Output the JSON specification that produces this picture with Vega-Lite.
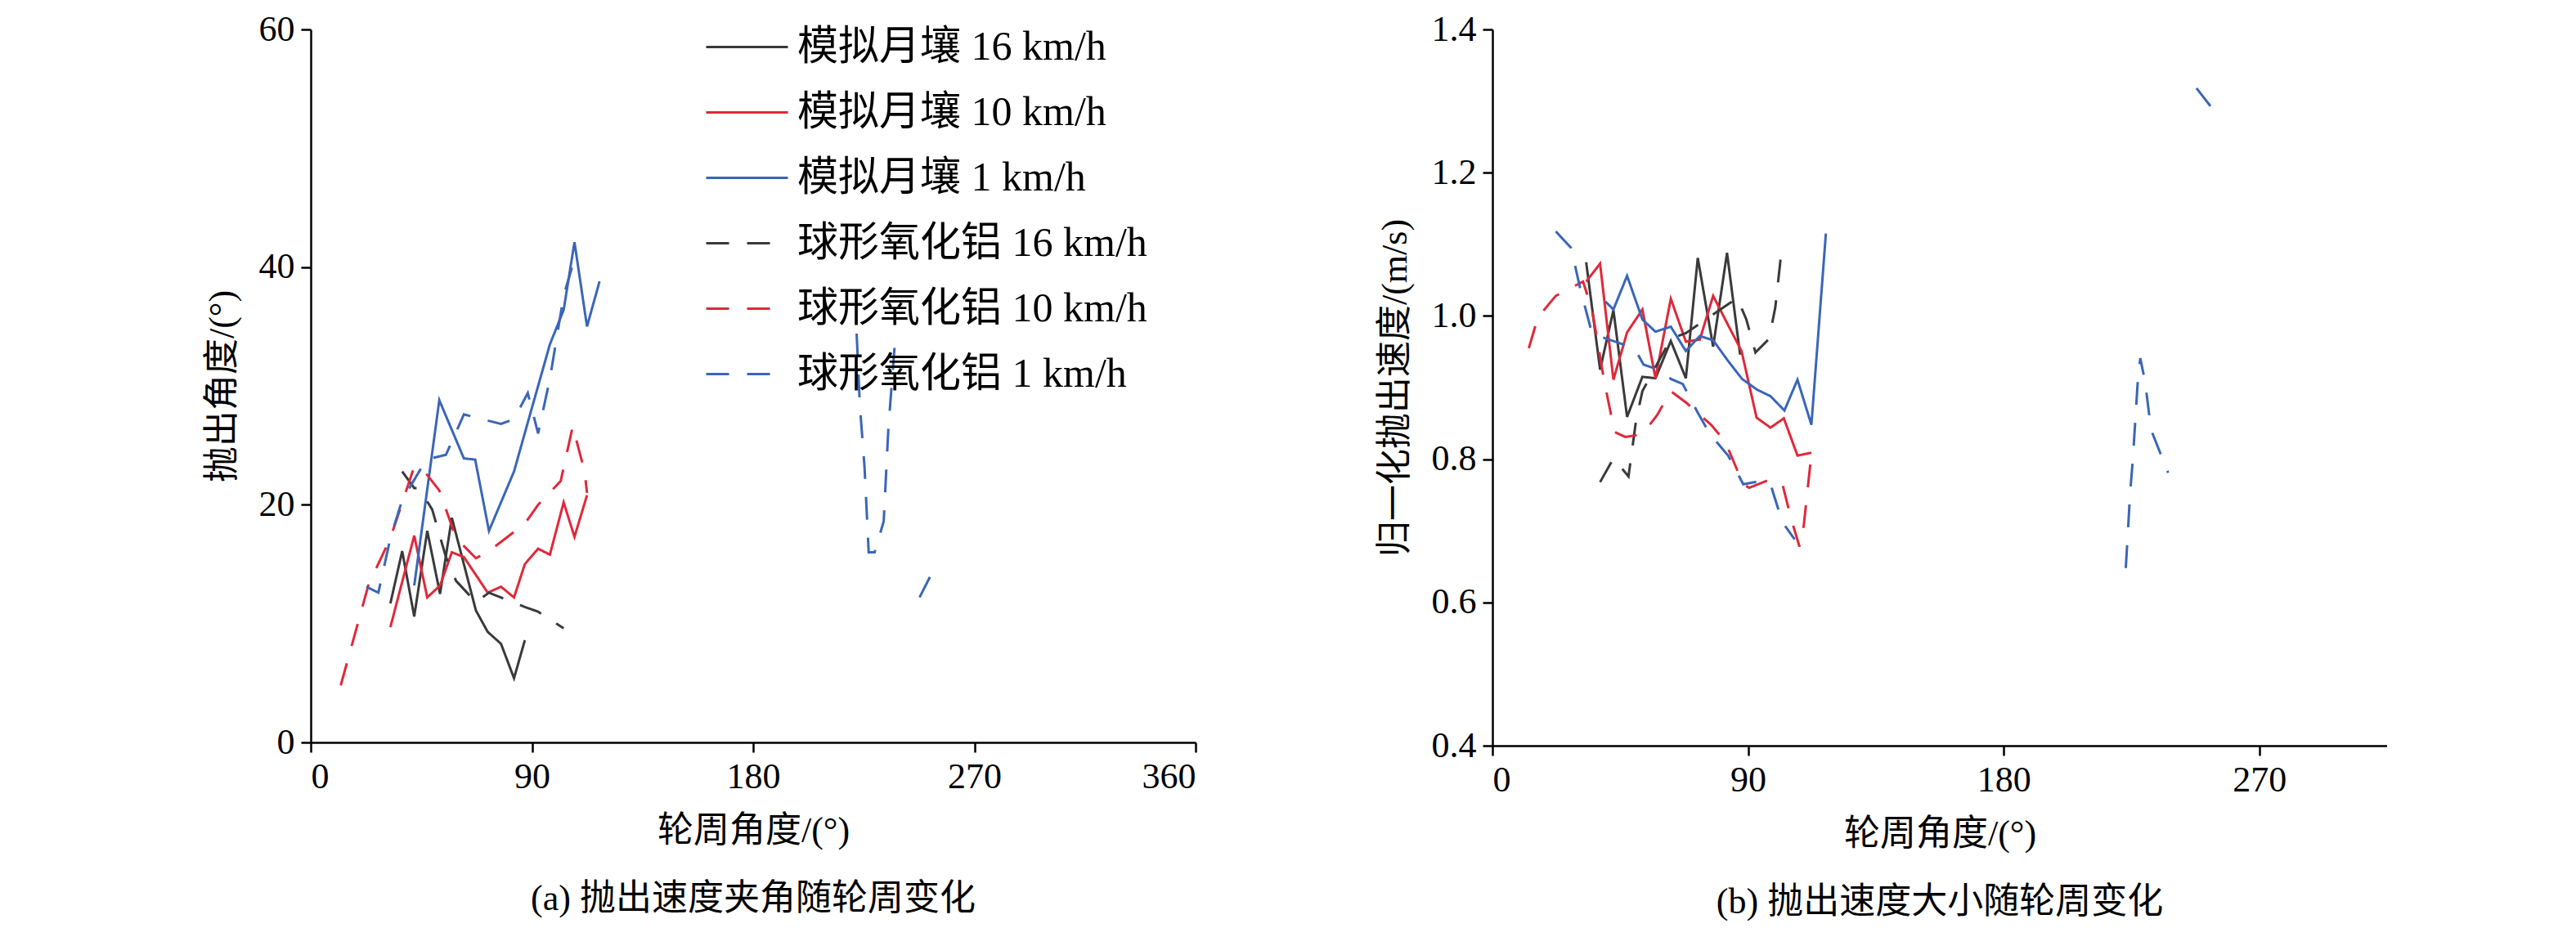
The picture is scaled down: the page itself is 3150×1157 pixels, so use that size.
{
  "$schema": "https://vega.github.io/schema/vega-lite/v6.json",
  "padding": {"left": 250, "top": 6, "right": 0, "bottom": 0},
  "background": "white",
  "datasets": {
    "a": [
      {"s": "模拟月壤 16 km/h", "g": 1, "i": 1, "x": 32.4, "y": 11.7},
      {"s": "模拟月壤 16 km/h", "g": 1, "i": 2, "x": 37.2, "y": 16.1},
      {"s": "模拟月壤 16 km/h", "g": 1, "i": 3, "x": 42.1, "y": 10.6},
      {"s": "模拟月壤 16 km/h", "g": 1, "i": 4, "x": 47.4, "y": 17.8},
      {"s": "模拟月壤 16 km/h", "g": 1, "i": 5, "x": 52.6, "y": 12.5},
      {"s": "模拟月壤 16 km/h", "g": 1, "i": 6, "x": 57.4, "y": 18.9},
      {"s": "模拟月壤 16 km/h", "g": 1, "i": 7, "x": 67.2, "y": 11.1},
      {"s": "模拟月壤 16 km/h", "g": 1, "i": 8, "x": 72.0, "y": 9.3},
      {"s": "模拟月壤 16 km/h", "g": 1, "i": 9, "x": 77.4, "y": 8.3},
      {"s": "模拟月壤 16 km/h", "g": 1, "i": 10, "x": 82.7, "y": 5.4},
      {"s": "模拟月壤 16 km/h", "g": 1, "i": 11, "x": 87.1, "y": 8.6},
      {"s": "模拟月壤 10 km/h", "g": 1, "i": 1, "x": 32.4, "y": 9.7},
      {"s": "模拟月壤 10 km/h", "g": 1, "i": 2, "x": 42.1, "y": 17.4},
      {"s": "模拟月壤 10 km/h", "g": 1, "i": 3, "x": 47.4, "y": 12.2},
      {"s": "模拟月壤 10 km/h", "g": 1, "i": 4, "x": 52.6, "y": 13.2},
      {"s": "模拟月壤 10 km/h", "g": 1, "i": 5, "x": 57.4, "y": 16.0},
      {"s": "模拟月壤 10 km/h", "g": 1, "i": 6, "x": 62.3, "y": 15.6},
      {"s": "模拟月壤 10 km/h", "g": 1, "i": 7, "x": 72.0, "y": 12.6},
      {"s": "模拟月壤 10 km/h", "g": 1, "i": 8, "x": 77.4, "y": 13.1},
      {"s": "模拟月壤 10 km/h", "g": 1, "i": 9, "x": 82.7, "y": 12.2},
      {"s": "模拟月壤 10 km/h", "g": 1, "i": 10, "x": 87.1, "y": 15.0},
      {"s": "模拟月壤 10 km/h", "g": 1, "i": 11, "x": 92.5, "y": 16.3},
      {"s": "模拟月壤 10 km/h", "g": 1, "i": 12, "x": 97.3, "y": 15.8},
      {"s": "模拟月壤 10 km/h", "g": 1, "i": 13, "x": 102.9, "y": 20.2},
      {"s": "模拟月壤 10 km/h", "g": 1, "i": 14, "x": 107.3, "y": 17.3},
      {"s": "模拟月壤 10 km/h", "g": 1, "i": 15, "x": 112.4, "y": 20.8},
      {"s": "模拟月壤 1 km/h", "g": 1, "i": 1, "x": 42.1, "y": 13.2},
      {"s": "模拟月壤 1 km/h", "g": 1, "i": 2, "x": 52.3, "y": 28.8},
      {"s": "模拟月壤 1 km/h", "g": 1, "i": 3, "x": 62.3, "y": 23.9},
      {"s": "模拟月壤 1 km/h", "g": 1, "i": 4, "x": 66.9, "y": 23.8},
      {"s": "模拟月壤 1 km/h", "g": 1, "i": 5, "x": 72.5, "y": 17.8},
      {"s": "模拟月壤 1 km/h", "g": 1, "i": 6, "x": 82.7, "y": 22.8},
      {"s": "模拟月壤 1 km/h", "g": 1, "i": 7, "x": 89.5, "y": 27.8},
      {"s": "模拟月壤 1 km/h", "g": 1, "i": 8, "x": 97.3, "y": 33.5},
      {"s": "模拟月壤 1 km/h", "g": 1, "i": 9, "x": 102.9, "y": 36.4},
      {"s": "模拟月壤 1 km/h", "g": 1, "i": 10, "x": 107.3, "y": 42.1},
      {"s": "模拟月壤 1 km/h", "g": 1, "i": 11, "x": 112.4, "y": 35.0},
      {"s": "模拟月壤 1 km/h", "g": 1, "i": 12, "x": 117.5, "y": 38.8},
      {"s": "球形氧化铝 16 km/h", "g": 1, "i": 1, "x": 37.2, "y": 22.8},
      {"s": "球形氧化铝 16 km/h", "g": 1, "i": 2, "x": 42.1, "y": 21.4},
      {"s": "球形氧化铝 16 km/h", "g": 1, "i": 3, "x": 44.0, "y": 21.4},
      {"s": "球形氧化铝 16 km/h", "g": 1, "i": 4, "x": 49.4, "y": 19.6},
      {"s": "球形氧化铝 16 km/h", "g": 1, "i": 5, "x": 55.0, "y": 15.6},
      {"s": "球形氧化铝 16 km/h", "g": 1, "i": 6, "x": 59.1, "y": 13.6},
      {"s": "球形氧化铝 16 km/h", "g": 1, "i": 7, "x": 67.2, "y": 11.8},
      {"s": "球形氧化铝 16 km/h", "g": 1, "i": 8, "x": 72.5, "y": 12.6},
      {"s": "球形氧化铝 16 km/h", "g": 1, "i": 9, "x": 87.1, "y": 11.4},
      {"s": "球形氧化铝 16 km/h", "g": 1, "i": 10, "x": 92.5, "y": 11.0},
      {"s": "球形氧化铝 16 km/h", "g": 1, "i": 11, "x": 102.9, "y": 9.6},
      {"s": "球形氧化铝 10 km/h", "g": 1, "i": 1, "x": 12.2, "y": 4.8},
      {"s": "球形氧化铝 10 km/h", "g": 1, "i": 2, "x": 23.4, "y": 13.2},
      {"s": "球形氧化铝 10 km/h", "g": 1, "i": 3, "x": 32.4, "y": 17.2},
      {"s": "球形氧化铝 10 km/h", "g": 1, "i": 4, "x": 42.1, "y": 23.2},
      {"s": "球形氧化铝 10 km/h", "g": 1, "i": 5, "x": 47.0, "y": 22.6},
      {"s": "球形氧化铝 10 km/h", "g": 1, "i": 6, "x": 52.3, "y": 21.2},
      {"s": "球形氧化铝 10 km/h", "g": 1, "i": 7, "x": 59.1, "y": 17.2},
      {"s": "球形氧化铝 10 km/h", "g": 1, "i": 8, "x": 67.2, "y": 15.5},
      {"s": "球形氧化铝 10 km/h", "g": 1, "i": 9, "x": 72.5, "y": 16.1},
      {"s": "球形氧化铝 10 km/h", "g": 1, "i": 10, "x": 87.1, "y": 18.4},
      {"s": "球形氧化铝 10 km/h", "g": 1, "i": 11, "x": 92.5, "y": 20.0},
      {"s": "球形氧化铝 10 km/h", "g": 1, "i": 12, "x": 101.7, "y": 22.0},
      {"s": "球形氧化铝 10 km/h", "g": 1, "i": 13, "x": 106.6, "y": 26.6},
      {"s": "球形氧化铝 10 km/h", "g": 1, "i": 14, "x": 111.4, "y": 22.8},
      {"s": "球形氧化铝 10 km/h", "g": 1, "i": 15, "x": 112.4, "y": 21.0},
      {"s": "球形氧化铝 1 km/h", "g": 1, "i": 1, "x": 22.6, "y": 13.1},
      {"s": "球形氧化铝 1 km/h", "g": 1, "i": 2, "x": 27.5, "y": 12.6},
      {"s": "球形氧化铝 1 km/h", "g": 1, "i": 3, "x": 32.4, "y": 17.2},
      {"s": "球形氧化铝 1 km/h", "g": 1, "i": 4, "x": 37.2, "y": 20.4},
      {"s": "球形氧化铝 1 km/h", "g": 1, "i": 5, "x": 47.0, "y": 23.8},
      {"s": "球形氧化铝 1 km/h", "g": 1, "i": 6, "x": 55.0, "y": 24.2},
      {"s": "球形氧化铝 1 km/h", "g": 1, "i": 7, "x": 62.3, "y": 27.6},
      {"s": "球形氧化铝 1 km/h", "g": 1, "i": 8, "x": 77.4, "y": 26.8},
      {"s": "球形氧化铝 1 km/h", "g": 1, "i": 9, "x": 82.7, "y": 27.2},
      {"s": "球形氧化铝 1 km/h", "g": 1, "i": 10, "x": 88.3, "y": 29.4},
      {"s": "球形氧化铝 1 km/h", "g": 1, "i": 11, "x": 92.5, "y": 26.0},
      {"s": "球形氧化铝 1 km/h", "g": 1, "i": 12, "x": 97.3, "y": 30.6},
      {"s": "球形氧化铝 1 km/h", "g": 1, "i": 13, "x": 102.9, "y": 37.6},
      {"s": "球形氧化铝 1 km/h", "g": 1, "i": 14, "x": 106.6, "y": 40.2},
      {"s": "球形氧化铝 1 km/h", "g": 2, "i": 15, "x": 222.1, "y": 34.4},
      {"s": "球形氧化铝 1 km/h", "g": 2, "i": 16, "x": 223.4, "y": 28.4},
      {"s": "球形氧化铝 1 km/h", "g": 2, "i": 17, "x": 225.3, "y": 23.2},
      {"s": "球形氧化铝 1 km/h", "g": 2, "i": 18, "x": 227.0, "y": 16.0},
      {"s": "球形氧化铝 1 km/h", "g": 2, "i": 19, "x": 229.4, "y": 16.0},
      {"s": "球形氧化铝 1 km/h", "g": 2, "i": 20, "x": 233.1, "y": 18.6},
      {"s": "球形氧化铝 1 km/h", "g": 2, "i": 21, "x": 235.0, "y": 26.4},
      {"s": "球形氧化铝 1 km/h", "g": 2, "i": 22, "x": 237.5, "y": 33.2},
      {"s": "球形氧化铝 1 km/h", "g": 3, "i": 23, "x": 247.7, "y": 12.2},
      {"s": "球形氧化铝 1 km/h", "g": 3, "i": 24, "x": 252.1, "y": 14.0}
    ],
    "b": [
      {"s": "模拟月壤 16 km/h", "g": 1, "i": 1, "x": 33.0, "y": 1.075},
      {"s": "模拟月壤 16 km/h", "g": 1, "i": 2, "x": 37.9, "y": 0.925},
      {"s": "模拟月壤 16 km/h", "g": 1, "i": 3, "x": 42.6, "y": 1.008},
      {"s": "模拟月壤 16 km/h", "g": 1, "i": 4, "x": 47.4, "y": 0.859},
      {"s": "模拟月壤 16 km/h", "g": 1, "i": 5, "x": 52.8, "y": 0.915},
      {"s": "模拟月壤 16 km/h", "g": 1, "i": 6, "x": 57.4, "y": 0.913},
      {"s": "模拟月壤 16 km/h", "g": 1, "i": 7, "x": 62.8, "y": 0.965},
      {"s": "模拟月壤 16 km/h", "g": 1, "i": 8, "x": 68.1, "y": 0.913},
      {"s": "模拟月壤 16 km/h", "g": 1, "i": 9, "x": 72.3, "y": 1.081},
      {"s": "模拟月壤 16 km/h", "g": 1, "i": 10, "x": 77.7, "y": 0.957},
      {"s": "模拟月壤 16 km/h", "g": 1, "i": 11, "x": 82.6, "y": 1.088},
      {"s": "模拟月壤 16 km/h", "g": 1, "i": 12, "x": 87.2, "y": 0.946},
      {"s": "模拟月壤 10 km/h", "g": 1, "i": 1, "x": 33.0, "y": 1.048},
      {"s": "模拟月壤 10 km/h", "g": 1, "i": 2, "x": 37.9, "y": 1.073},
      {"s": "模拟月壤 10 km/h", "g": 1, "i": 3, "x": 42.6, "y": 0.911},
      {"s": "模拟月壤 10 km/h", "g": 1, "i": 4, "x": 47.4, "y": 0.977},
      {"s": "模拟月壤 10 km/h", "g": 1, "i": 5, "x": 52.8, "y": 1.009},
      {"s": "模拟月壤 10 km/h", "g": 1, "i": 6, "x": 57.4, "y": 0.913},
      {"s": "模拟月壤 10 km/h", "g": 1, "i": 7, "x": 62.8, "y": 1.024},
      {"s": "模拟月壤 10 km/h", "g": 1, "i": 8, "x": 68.1, "y": 0.964},
      {"s": "模拟月壤 10 km/h", "g": 1, "i": 9, "x": 73.0, "y": 0.967},
      {"s": "模拟月壤 10 km/h", "g": 1, "i": 10, "x": 77.7, "y": 1.028},
      {"s": "模拟月壤 10 km/h", "g": 1, "i": 11, "x": 83.0, "y": 0.987},
      {"s": "模拟月壤 10 km/h", "g": 1, "i": 12, "x": 87.7, "y": 0.951},
      {"s": "模拟月壤 10 km/h", "g": 1, "i": 13, "x": 93.0, "y": 0.858},
      {"s": "模拟月壤 10 km/h", "g": 1, "i": 14, "x": 97.9, "y": 0.844},
      {"s": "模拟月壤 10 km/h", "g": 1, "i": 15, "x": 102.6, "y": 0.857},
      {"s": "模拟月壤 10 km/h", "g": 1, "i": 16, "x": 107.4, "y": 0.805},
      {"s": "模拟月壤 10 km/h", "g": 1, "i": 17, "x": 112.3, "y": 0.809},
      {"s": "模拟月壤 1 km/h", "g": 1, "i": 1, "x": 39.8, "y": 1.02},
      {"s": "模拟月壤 1 km/h", "g": 1, "i": 2, "x": 42.6, "y": 1.009},
      {"s": "模拟月壤 1 km/h", "g": 1, "i": 3, "x": 47.4, "y": 1.056},
      {"s": "模拟月壤 1 km/h", "g": 1, "i": 4, "x": 52.8, "y": 0.995},
      {"s": "模拟月壤 1 km/h", "g": 1, "i": 5, "x": 57.4, "y": 0.978},
      {"s": "模拟月壤 1 km/h", "g": 1, "i": 6, "x": 62.8, "y": 0.985},
      {"s": "模拟月壤 1 km/h", "g": 1, "i": 7, "x": 68.1, "y": 0.951},
      {"s": "模拟月壤 1 km/h", "g": 1, "i": 8, "x": 73.0, "y": 0.972},
      {"s": "模拟月壤 1 km/h", "g": 1, "i": 9, "x": 77.7, "y": 0.966},
      {"s": "模拟月壤 1 km/h", "g": 1, "i": 10, "x": 83.0, "y": 0.937},
      {"s": "模拟月壤 1 km/h", "g": 1, "i": 11, "x": 87.9, "y": 0.912},
      {"s": "模拟月壤 1 km/h", "g": 1, "i": 12, "x": 93.2, "y": 0.897},
      {"s": "模拟月壤 1 km/h", "g": 1, "i": 13, "x": 97.9, "y": 0.888},
      {"s": "模拟月壤 1 km/h", "g": 1, "i": 14, "x": 102.8, "y": 0.868},
      {"s": "模拟月壤 1 km/h", "g": 1, "i": 15, "x": 107.4, "y": 0.911},
      {"s": "模拟月壤 1 km/h", "g": 1, "i": 16, "x": 112.3, "y": 0.848},
      {"s": "模拟月壤 1 km/h", "g": 1, "i": 17, "x": 117.4, "y": 1.115},
      {"s": "球形氧化铝 16 km/h", "g": 1, "i": 1, "x": 37.9, "y": 0.768},
      {"s": "球形氧化铝 16 km/h", "g": 1, "i": 2, "x": 42.6, "y": 0.801},
      {"s": "球形氧化铝 16 km/h", "g": 1, "i": 3, "x": 47.9, "y": 0.776},
      {"s": "球形氧化铝 16 km/h", "g": 1, "i": 4, "x": 50.6, "y": 0.855},
      {"s": "球形氧化铝 16 km/h", "g": 1, "i": 5, "x": 52.8, "y": 0.895},
      {"s": "球形氧化铝 16 km/h", "g": 1, "i": 6, "x": 62.8, "y": 0.968},
      {"s": "球形氧化铝 16 km/h", "g": 1, "i": 7, "x": 68.1, "y": 0.976},
      {"s": "球形氧化铝 16 km/h", "g": 1, "i": 8, "x": 86.2, "y": 1.025},
      {"s": "球形氧化铝 16 km/h", "g": 1, "i": 9, "x": 89.4, "y": 0.995},
      {"s": "球形氧化铝 16 km/h", "g": 1, "i": 10, "x": 92.6, "y": 0.949},
      {"s": "球形氧化铝 16 km/h", "g": 1, "i": 11, "x": 97.4, "y": 0.968},
      {"s": "球形氧化铝 16 km/h", "g": 1, "i": 12, "x": 99.6, "y": 1.012},
      {"s": "球形氧化铝 16 km/h", "g": 1, "i": 13, "x": 102.1, "y": 1.103},
      {"s": "球形氧化铝 10 km/h", "g": 1, "i": 1, "x": 12.8, "y": 0.955},
      {"s": "球形氧化铝 10 km/h", "g": 1, "i": 2, "x": 16.0, "y": 0.998},
      {"s": "球形氧化铝 10 km/h", "g": 1, "i": 3, "x": 22.3, "y": 1.028},
      {"s": "球形氧化铝 10 km/h", "g": 1, "i": 4, "x": 31.9, "y": 1.048},
      {"s": "球形氧化铝 10 km/h", "g": 1, "i": 5, "x": 35.1, "y": 1.008},
      {"s": "球形氧化铝 10 km/h", "g": 1, "i": 6, "x": 39.4, "y": 0.908},
      {"s": "球形氧化铝 10 km/h", "g": 1, "i": 7, "x": 43.0, "y": 0.838},
      {"s": "球形氧化铝 10 km/h", "g": 1, "i": 8, "x": 46.8, "y": 0.831},
      {"s": "球形氧化铝 10 km/h", "g": 1, "i": 9, "x": 52.8, "y": 0.835},
      {"s": "球形氧化铝 10 km/h", "g": 1, "i": 10, "x": 57.9, "y": 0.861},
      {"s": "球形氧化铝 10 km/h", "g": 1, "i": 11, "x": 62.8, "y": 0.895},
      {"s": "球形氧化铝 10 km/h", "g": 1, "i": 12, "x": 68.5, "y": 0.878},
      {"s": "球形氧化铝 10 km/h", "g": 1, "i": 13, "x": 77.0, "y": 0.848},
      {"s": "球形氧化铝 10 km/h", "g": 1, "i": 14, "x": 81.9, "y": 0.825},
      {"s": "球形氧化铝 10 km/h", "g": 1, "i": 15, "x": 88.3, "y": 0.765},
      {"s": "球形氧化铝 10 km/h", "g": 1, "i": 16, "x": 90.4, "y": 0.76},
      {"s": "球形氧化铝 10 km/h", "g": 1, "i": 17, "x": 97.4, "y": 0.771},
      {"s": "球形氧化铝 10 km/h", "g": 1, "i": 18, "x": 102.1, "y": 0.765},
      {"s": "球形氧化铝 10 km/h", "g": 1, "i": 19, "x": 105.3, "y": 0.715},
      {"s": "球形氧化铝 10 km/h", "g": 1, "i": 20, "x": 108.1, "y": 0.678},
      {"s": "球形氧化铝 10 km/h", "g": 1, "i": 21, "x": 109.6, "y": 0.707},
      {"s": "球形氧化铝 10 km/h", "g": 1, "i": 22, "x": 112.3, "y": 0.807},
      {"s": "球形氧化铝 1 km/h", "g": 1, "i": 1, "x": 22.3, "y": 1.118},
      {"s": "球形氧化铝 1 km/h", "g": 1, "i": 2, "x": 27.7, "y": 1.095},
      {"s": "球形氧化铝 1 km/h", "g": 1, "i": 3, "x": 30.9, "y": 1.038},
      {"s": "球形氧化铝 1 km/h", "g": 1, "i": 4, "x": 35.1, "y": 0.975},
      {"s": "球形氧化铝 1 km/h", "g": 1, "i": 5, "x": 50.0, "y": 0.955},
      {"s": "球形氧化铝 1 km/h", "g": 1, "i": 6, "x": 53.2, "y": 0.932},
      {"s": "球形氧化铝 1 km/h", "g": 1, "i": 7, "x": 60.6, "y": 0.922},
      {"s": "球形氧化铝 1 km/h", "g": 1, "i": 8, "x": 62.8, "y": 0.912},
      {"s": "球形氧化铝 1 km/h", "g": 1, "i": 9, "x": 67.0, "y": 0.905},
      {"s": "球形氧化铝 1 km/h", "g": 1, "i": 10, "x": 72.3, "y": 0.865},
      {"s": "球形氧化铝 1 km/h", "g": 1, "i": 11, "x": 76.6, "y": 0.835},
      {"s": "球形氧化铝 1 km/h", "g": 1, "i": 12, "x": 83.0, "y": 0.805},
      {"s": "球形氧化铝 1 km/h", "g": 1, "i": 13, "x": 88.3, "y": 0.765},
      {"s": "球形氧化铝 1 km/h", "g": 1, "i": 14, "x": 92.6, "y": 0.768},
      {"s": "球形氧化铝 1 km/h", "g": 1, "i": 15, "x": 97.9, "y": 0.765},
      {"s": "球形氧化铝 1 km/h", "g": 1, "i": 16, "x": 102.1, "y": 0.712},
      {"s": "球形氧化铝 1 km/h", "g": 1, "i": 17, "x": 106.4, "y": 0.688},
      {"s": "球形氧化铝 1 km/h", "g": 2, "i": 18, "x": 223.0, "y": 0.648},
      {"s": "球形氧化铝 1 km/h", "g": 2, "i": 19, "x": 224.5, "y": 0.751},
      {"s": "球形氧化铝 1 km/h", "g": 2, "i": 20, "x": 225.5, "y": 0.801},
      {"s": "球形氧化铝 1 km/h", "g": 2, "i": 21, "x": 227.2, "y": 0.908},
      {"s": "球形氧化铝 1 km/h", "g": 2, "i": 22, "x": 228.1, "y": 0.941},
      {"s": "球形氧化铝 1 km/h", "g": 2, "i": 23, "x": 229.8, "y": 0.908},
      {"s": "球形氧化铝 1 km/h", "g": 2, "i": 24, "x": 231.9, "y": 0.841},
      {"s": "球形氧化铝 1 km/h", "g": 2, "i": 25, "x": 237.9, "y": 0.781},
      {"s": "球形氧化铝 1 km/h", "g": 3, "i": 26, "x": 247.9, "y": 1.318},
      {"s": "球形氧化铝 1 km/h", "g": 3, "i": 27, "x": 252.8, "y": 1.293}
    ]
  },
  "hconcat": [
    {
      "width": 1082,
      "height": 872,
      "data": {"name": "a"},
      "title": {"text": "(a) 抛出速度夹角随轮周变化", "orient": "bottom", "offset": 40},
      "mark": {"type": "line", "strokeWidth": 3},
      "encoding": {
        "x": {"field": "x", "type": "quantitative", "scale": {"domain": [0, 360]}, "axis": {"values": [0, 90, 180, 270, 360], "title": "轮周角度/(°)"}},
        "y": {"field": "y", "type": "quantitative", "scale": {"domain": [0, 60]}, "axis": {"values": [0, 20, 40, 60], "title": "抛出角度/(°)"}},
        "color": {"field": "s", "type": "nominal", "title": null,
          "scale": {"domain": ["模拟月壤 16 km/h", "模拟月壤 10 km/h", "模拟月壤 1 km/h", "球形氧化铝 16 km/h", "球形氧化铝 10 km/h", "球形氧化铝 1 km/h"],
            "range": ["#3a3a3a", "#e0283a", "#3a66b8", "#3a3a3a", "#e0283a", "#3a66b8"]},
          "legend": {"orient": "none", "legendX": 482, "legendY": -30, "symbolType": "stroke", "symbolSize": 10000, "symbolStrokeWidth": 3, "labelFontSize": 50, "labelLimit": 900, "rowPadding": 3, "symbolOffset": 0, "labelOffset": 10}},
        "strokeDash": {"field": "s", "type": "nominal", "title": null,
          "scale": {"domain": ["模拟月壤 16 km/h", "模拟月壤 10 km/h", "模拟月壤 1 km/h", "球形氧化铝 16 km/h", "球形氧化铝 10 km/h", "球形氧化铝 1 km/h"],
            "range": [[1, 0], [1, 0], [1, 0], [28, 22], [28, 22], [28, 22]]}},
        "detail": {"field": "g", "type": "nominal"},
        "order": {"field": "i", "type": "quantitative"}
      }
    },
    {
      "width": 1094,
      "height": 876,
      "data": {"name": "b"},
      "title": {"text": "(b) 抛出速度大小随轮周变化", "orient": "bottom", "offset": 40},
      "mark": {"type": "line", "strokeWidth": 3},
      "encoding": {
        "x": {"field": "x", "type": "quantitative", "scale": {"domain": [0, 315]}, "axis": {"values": [0, 90, 180, 270], "title": "轮周角度/(°)"}},
        "y": {"field": "y", "type": "quantitative", "scale": {"domain": [0.4, 1.4]}, "axis": {"values": [0.4, 0.6, 0.8, 1.0, 1.2, 1.4], "format": ".1f", "title": "归一化抛出速度/(m/s)"}},
        "color": {"field": "s", "type": "nominal", "legend": null},
        "strokeDash": {"field": "s", "type": "nominal", "legend": null},
        "detail": {"field": "g", "type": "nominal"},
        "order": {"field": "i", "type": "quantitative"}
      }
    }
  ],
  "spacing": 220,
  "config": {
    "font": "'Liberation Serif', 'Noto Sans CJK SC'",
    "view": {"stroke": null},
    "axis": {"grid": false, "domainColor": "black", "tickColor": "black", "domainWidth": 2.5, "tickWidth": 2.5, "tickSize": 12,
      "labelFont": "'Liberation Serif', 'Noto Sans CJK SC'", "labelFontSize": 44, "labelColor": "black", "labelPadding": 8,
      "titleFont": "'Liberation Serif', 'Noto Sans CJK SC'", "titleFontSize": 44, "titleFontWeight": "normal", "titleColor": "black", "titlePadding": 22},
    "legend": {"labelFont": "'Liberation Serif', 'Noto Sans CJK SC'", "labelColor": "black"},
    "title": {"font": "'Liberation Serif', 'Noto Sans CJK SC'", "fontSize": 44, "fontWeight": "normal", "color": "black"}
  }
}
